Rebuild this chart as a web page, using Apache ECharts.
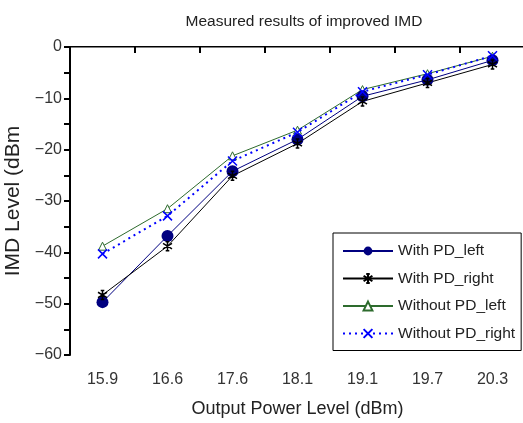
<!DOCTYPE html>
<html>
<head>
<meta charset="utf-8">
<script src="https://cdn.jsdelivr.net/npm/echarts@6/dist/echarts.min.js"></script>
<style>html,body{margin:0;padding:0;background:#fff}#c{width:523px;height:423px}</style>
</head>
<body>
<div id="c"></div>
<script>
const categories = ['15.9', '16.6', '17.6', '18.1', '19.1', '19.7', '20.3'];
const withPdLeft = [-49.7, -36.8, -24.2, -18.0, -9.6, -6.4, -2.6];
const withPdRight = [-48.3, -38.8, -25.1, -18.8, -10.6, -7.0, -3.4];
const withoutPdLeft = [-38.8, -31.5, -21.2, -16.2, -8.3, -5.2, -1.8];
const withoutPdRight = [-40.3, -32.9, -22.2, -16.6, -8.7, -5.4, -1.7];
const yTicks = [0, -10, -20, -30, -40, -50, -60];

const FONT = 'Liberation Sans, Arial, sans-serif';
const chart = echarts.init(document.getElementById('c'), null, {renderer: 'canvas'});

const asterisk = 'path://M5,0L5,10M0,2L10,8M0,8L10,2M3,0L7,0M3,10L7,10';
const cross = 'path://M0,0L10,10M10,0L0,10';

chart.setOption({
  animation: false,
  backgroundColor: '#fff',
  title: {
    text: 'Measured results of improved IMD',
    left: 299, top: 9, textAlign: 'center',
    textStyle: {fontFamily: FONT, fontSize: 15.5, fontWeight: 'normal', color: '#222'}
  },
  grid: {left: 70, right: -2, top: 47, bottom: 68, containLabel: false, outerBoundsMode: 'none'},
  legend: {
    orient: 'vertical', left: 333, top: 233,
    padding: [10, 6, 9, 9],
    itemWidth: 50, itemHeight: 11, itemGap: 11.5,
    borderColor: '#000', borderWidth: 1, backgroundColor: '#fff',
    textStyle: {fontFamily: FONT, fontSize: 15.5, color: '#222'},
    data: ['With PD_left', 'With PD_right', 'Without PD_left', 'Without PD_right']
  },
  xAxis: [{
    type: 'category', data: categories, boundaryGap: true, position: 'bottom',
    name: 'Output Power Level (dBm)', nameLocation: 'middle', nameGap: 45,
    nameTextStyle: {fontFamily: FONT, fontSize: 18, color: '#222'},
    axisLine: {lineStyle: {color: '#000', width: 2}},
    axisTick: {show: true, alignWithLabel: false, length: 6, lineStyle: {color: '#000', width: 2}},
    axisLabel: {margin: 17, fontFamily: FONT, fontSize: 16, color: '#333'},
    splitLine: {show: false}
  }, {
    type: 'category', data: categories, boundaryGap: true, position: 'top',
    axisLine: {lineStyle: {color: '#808080', width: 1}},
    axisTick: {show: false}, axisLabel: {show: false}, splitLine: {show: false}
  }],
  yAxis: {
    type: 'value', min: yTicks[yTicks.length - 1], max: yTicks[0], interval: 10,
    name: 'IMD Level (dBm', nameLocation: 'middle', nameGap: 39,
    nameTextStyle: {fontFamily: FONT, fontSize: 21, color: '#222'},
    axisLine: {show: true, lineStyle: {color: '#000', width: 2}},
    axisTick: {show: true, length: 6, lineStyle: {color: '#000', width: 2}},
    minorTick: {show: true, splitNumber: 2, length: 6, lineStyle: {color: '#000', width: 2}},
    axisLabel: {margin: 8, fontFamily: FONT, fontSize: 16, color: '#333',
      formatter: v => String(v).replace('-', '\u2212')},
    splitLine: {show: false}
  },
  series: [{
    name: 'With PD_left', type: 'line', data: withPdLeft,
    symbol: 'circle', symbolSize: 12,
    lineStyle: {color: '#000080', width: 1},
    itemStyle: {color: '#000080'}, z: 3
  }, {
    name: 'With PD_right', type: 'line', data: withPdRight,
    symbol: asterisk, symbolSize: 9,
    lineStyle: {color: '#000', width: 1},
    itemStyle: {color: 'rgba(0,0,0,0)', borderColor: '#000', borderWidth: 1.5}, z: 3
  }, {
    name: 'Without PD_left', type: 'line', data: withoutPdLeft,
    symbol: 'triangle', symbolSize: 8,
    lineStyle: {color: '#2d6b2d', width: 1},
    itemStyle: {color: '#fff', borderColor: '#2d6b2d', borderWidth: 1}, z: 2
  }, {
    name: 'Without PD_right', type: 'line', data: withoutPdRight,
    symbol: cross, symbolSize: 9,
    lineStyle: {color: '#0000ff', width: 2, type: [2, 4]},
    itemStyle: {color: 'rgba(0,0,0,0)', borderColor: '#0000ff', borderWidth: 1.5}, z: 4
  }]
});
</script>
</body>
</html>
